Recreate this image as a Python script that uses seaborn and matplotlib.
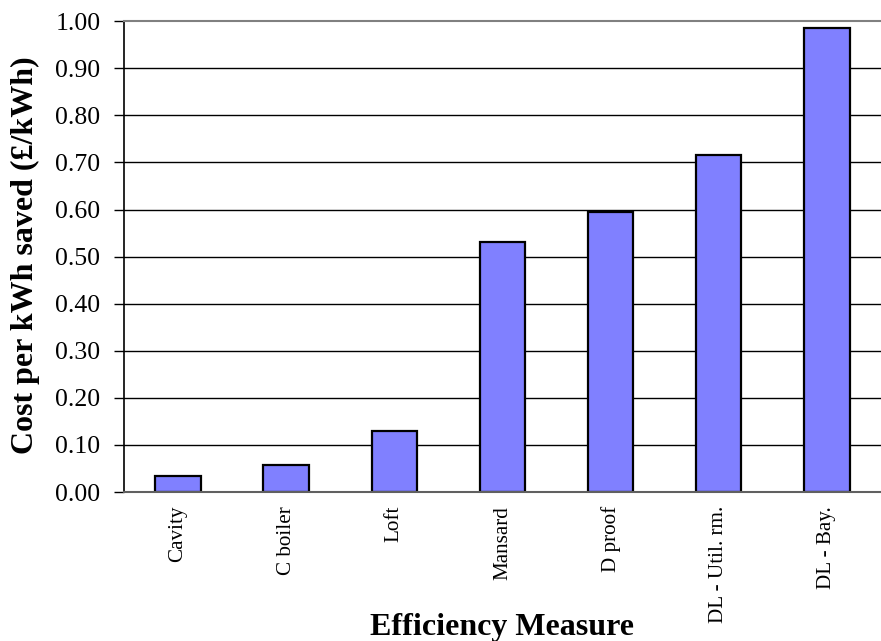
import matplotlib
matplotlib.use("Agg")
import matplotlib.pyplot as plt
import seaborn as sns
import pandas as pd

measures = ["Cavity", "C boiler", "Loft", "Mansard", "D proof", "DL - Util. rm.", "DL - Bay."]
cost_per_kwh = [0.034, 0.057, 0.130, 0.530, 0.594, 0.716, 0.985]
y_ticks = [0.0, 0.1, 0.2, 0.3, 0.4, 0.5, 0.6, 0.7, 0.8, 0.9, 1.0]

df = pd.DataFrame({"Measure": measures, "Cost": cost_per_kwh})

sns.set_style("white")
plt.rcParams["font.family"] = ["Liberation Serif", "DejaVu Serif"]
plt.rcParams["text.color"] = "black"
plt.rcParams["xtick.color"] = "black"
plt.rcParams["ytick.color"] = "black"

fig = plt.figure(figsize=(8.81, 6.41), dpi=100)
ax = fig.add_axes([0.1407, 0.2324, 0.8593, 0.7346])

# horizontal gridlines behind the bars
for y in y_ticks[1:-1]:
    ax.axhline(y, color="black", linewidth=1.0, zorder=0)

sns.barplot(
    data=df,
    x="Measure",
    y="Cost",
    color="#8080FF",
    saturation=1,
    edgecolor="black",
    linewidth=1.6,
    width=0.42,
    ax=ax,
    zorder=2,
)

ax.set_xlim(-0.5, 6.5)
ax.set_ylim(0, 1.0)
ax.set_yticks(y_ticks)
ax.set_yticklabels([f"{v:.2f}" for v in y_ticks], fontsize=18.5)
ax.set_xticks(range(len(measures)))
ax.set_xticklabels(measures, rotation=90, fontsize=15.2)
ax.set_xticks([i - 0.5 for i in range(len(measures) + 1)], minor=True)
ax.tick_params(axis="x", which="major", length=0, pad=10)
ax.tick_params(axis="x", which="minor", length=7, width=1, color="black", direction="out")
ax.tick_params(axis="y", length=7, width=1, color="black", direction="out", left=True, pad=10)

ax.spines["right"].set_visible(False)
ax.spines["top"].set_color("#808080")
ax.spines["top"].set_linewidth(1.5)
ax.spines["bottom"].set_color("#606060")
ax.spines["bottom"].set_linewidth(1.5)
ax.spines["left"].set_color("black")
ax.spines["left"].set_linewidth(1.2)

ax.set_xlabel("")
ax.set_ylabel("")
fig.text(0.570, 0.0094, "Efficiency Measure", fontsize=23, fontweight="bold",
         ha="center", va="baseline")
fig.text(0.029, 0.602, "Cost per kWh saved (\u00a3/kWh)", fontsize=23, fontweight="bold",
         ha="center", va="center", rotation=90)

fig.savefig("out.png", dpi=100)
